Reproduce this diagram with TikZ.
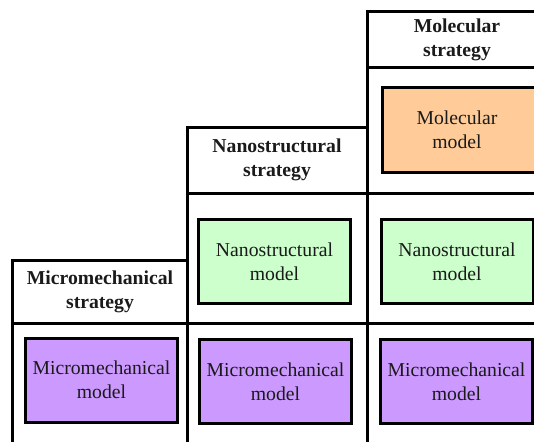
\documentclass[tikz,border=0pt]{standalone}
\usepackage{fontspec}
\setmainfont{Liberation Serif}
\newfontfamily\tnr{Liberation Serif}
\definecolor{molcol}{HTML}{FFCC99}
\definecolor{nanocol}{HTML}{CCFFCC}
\definecolor{miccol}{HTML}{CC99FF}
\definecolor{txtcol}{HTML}{1A1A1A}
\begin{document}
\begin{tikzpicture}[x=1pt,y=-1pt,
  gridline/.style={line width=3pt, line cap=rect},
  hdr/.style={font=\tnr\fontsize{19.7}{24}\selectfont\bfseries, align=center, text=txtcol, inner sep=0pt},
  modeltext/.style={font=\tnr\fontsize{19.7}{24}\selectfont, align=center, text=txtcol, inner sep=0pt},
  modelbox/.style={modeltext, draw=black, line width=3pt, minimum width=152pt, minimum height=84pt}]
\useasboundingbox (0,0) rectangle (534,441);
\clip (0,0) rectangle (534,441);
% table grid
\draw[gridline] (12,445) -- (12,260) -- (187,260);
\draw[gridline] (187,445) -- (187,127) -- (367,127);
\draw[gridline] (367,445) -- (367,12) -- (545,12);
\draw[gridline] (367,68) -- (545,68);
\draw[gridline] (187,193.5) -- (545,193.5);
\draw[gridline] (12,323) -- (545,323);
% headers
\node[hdr] (hmic) at (100,291.5) {Micromechanical\\strategy};
\node[hdr] (hnano) at (277,160) {Nanostructural\\strategy};
\node[hdr] (hmol) at (457,39.5) {Molecular\\strategy};
% models
\node[modelbox, fill=molcol, minimum width=170pt] (molbox) at (467,130) {};
\node[modeltext] (moltext) at (457,130) {Molecular\\model};
\node[modelbox, fill=nanocol] (nano2) at (274.5,261.5) {Nanostructural\\model};
\node[modelbox, fill=nanocol] (nano3) at (457,261.5) {Nanostructural\\model};
\node[modelbox, fill=miccol] (mic1) at (101.5,380) {Micromechanical\\model};
\node[modelbox, fill=miccol] (mic2) at (275.5,381.5) {Micromechanical\\model};
\node[modelbox, fill=miccol] (mic3) at (456.5,381.5) {Micromechanical\\model};
\end{tikzpicture}
\end{document}
